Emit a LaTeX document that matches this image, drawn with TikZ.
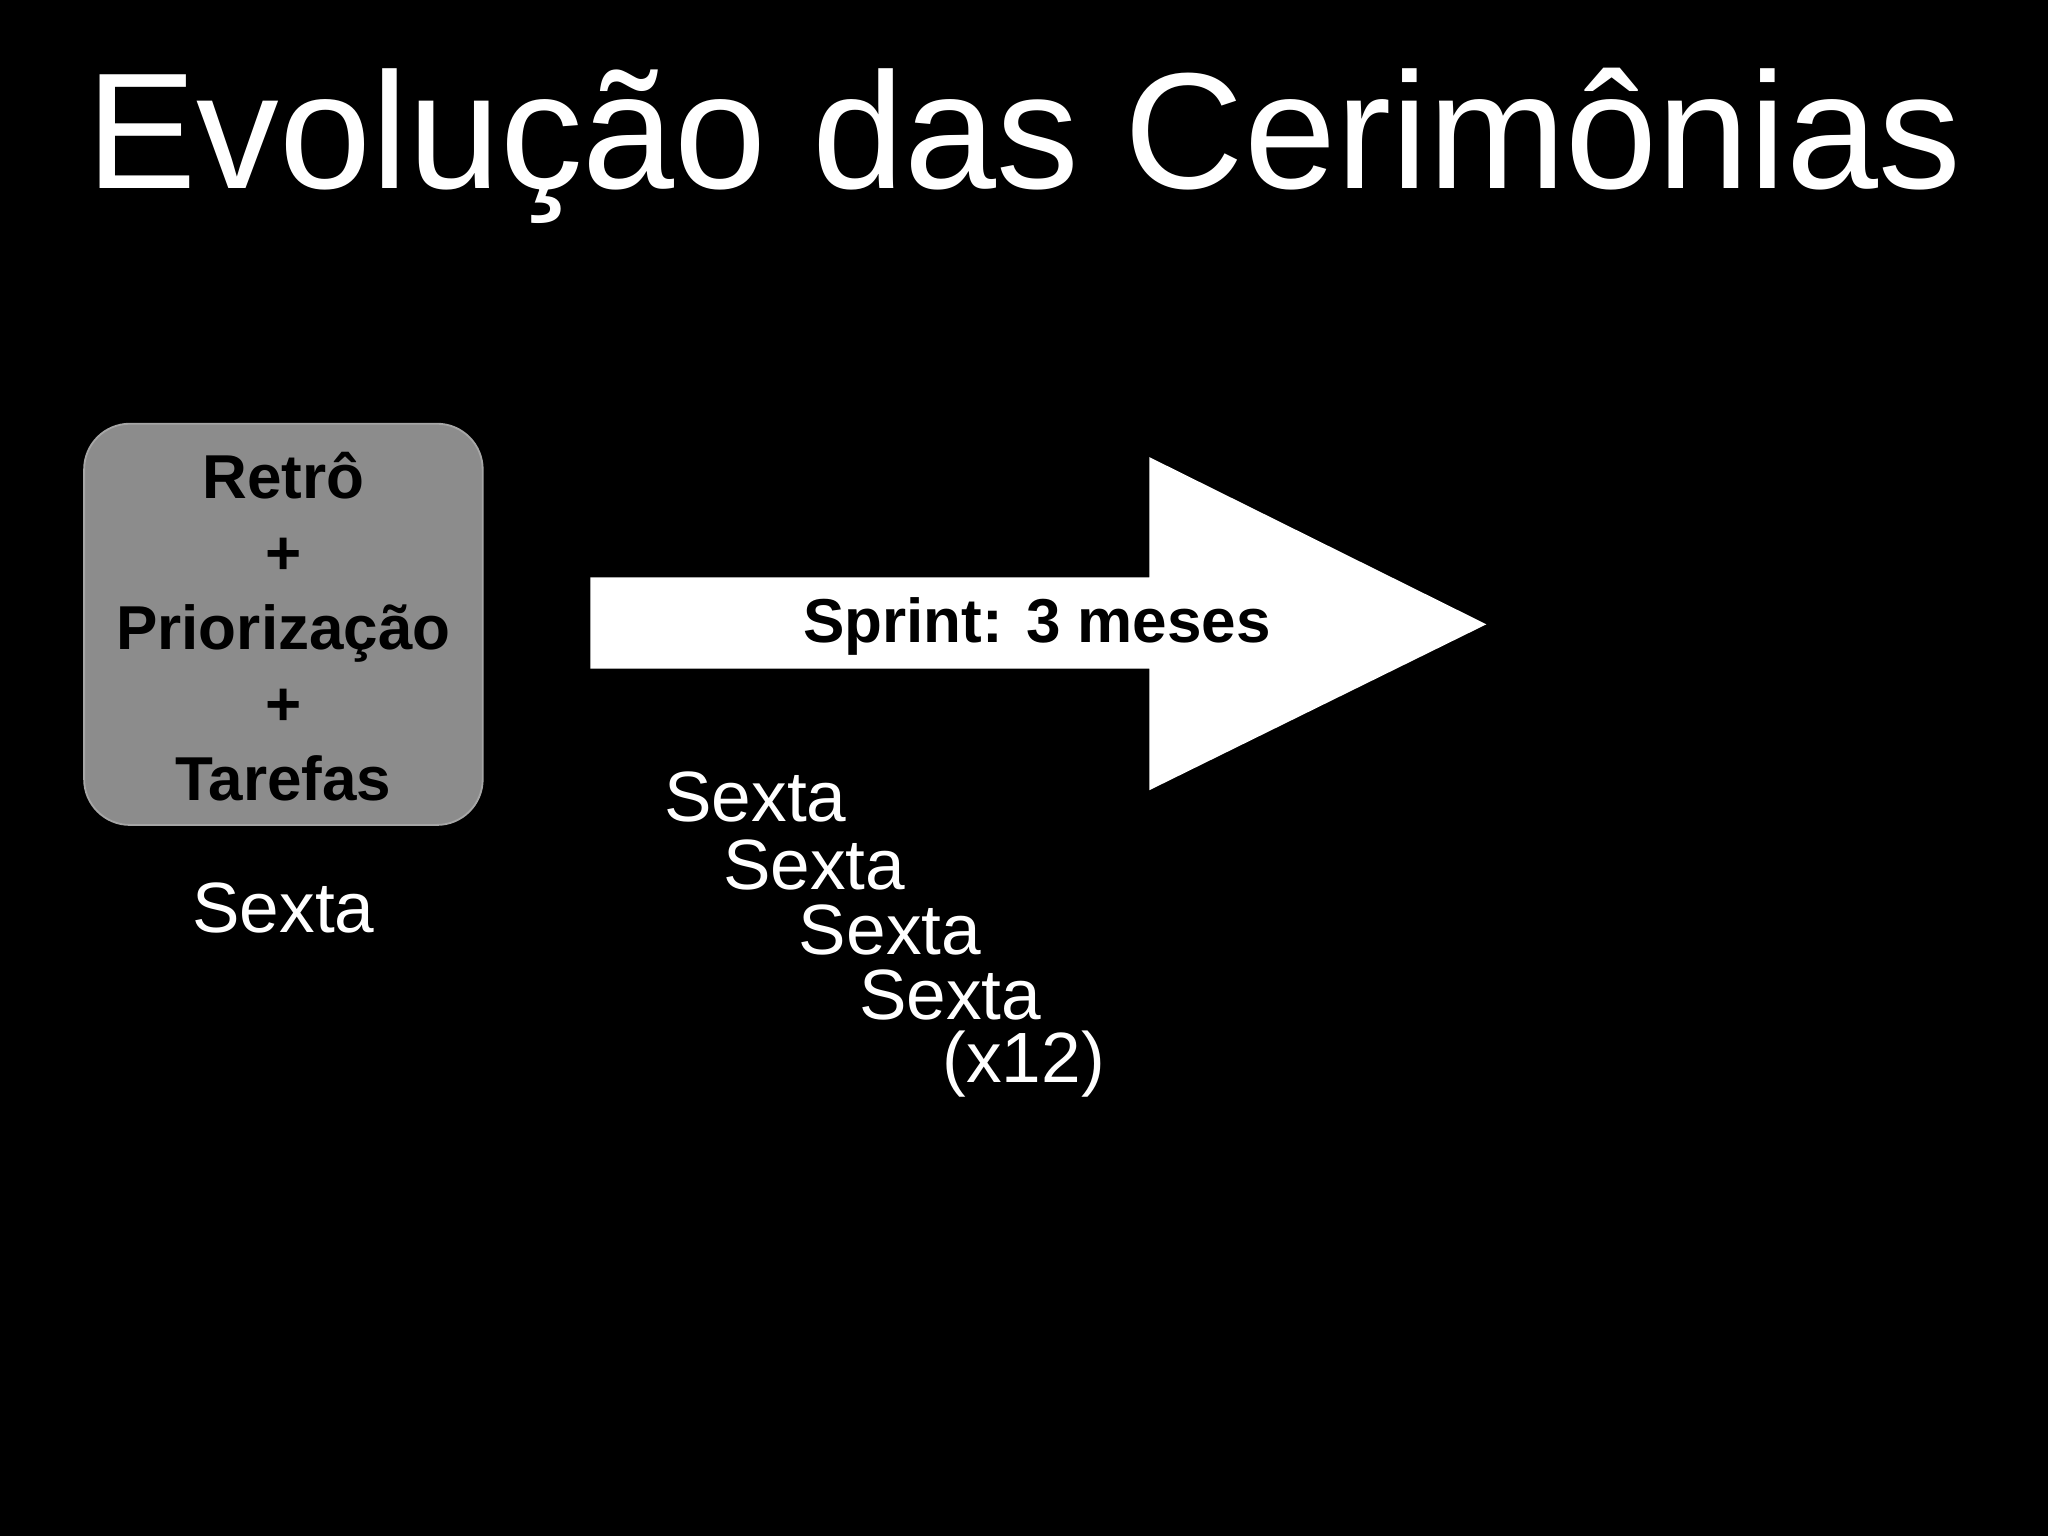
\documentclass[tikz,border=0pt]{standalone}
\usepackage{fontspec}
\setmainfont{Liberation Sans}
\begin{document}
\begin{tikzpicture}[x=0.01cm,y=-0.01cm,
  wt/.style={text=white,font=\fontsize{15.5}{18}\selectfont,inner sep=0pt},
  bt/.style={text=black,font=\fontsize{13.5}{15.6}\selectfont\bfseries,inner sep=0pt,align=center}]
\fill[black] (0,0) rectangle (1568,1176);
\useasboundingbox (0,0) rectangle (1568,1176);
\node[text=white,font=\fontsize{36}{40}\selectfont,inner sep=0pt] (title) at (784,112) {Evolução das Cerimônias};
\node[fill=black!45,draw=black!35,rounded corners=0.35cm,minimum width=3.05cm,minimum height=3.07cm] (box) at (217,478) {};
\node[bt] (btext) at (217,480) {Retrô\\[0.03cm]+\\[0.03cm]Priorização\\[0.03cm]+\\[0.03cm]Tarefas};
\node[wt] (s0) at (217,695) {Sexta};
\fill[white] (452,442) -- (880,442) -- (880,350) -- (1138,478) -- (880,605) -- (880,512) -- (452,512) -- cycle;
\node[bt] (sprint) at (794,480) {Sprint: 3 meses};
\node[wt,anchor=west] (s1) at (508,610) {Sexta};
\node[wt,anchor=west] (s2) at (553,662) {Sexta};
\node[wt,anchor=west] (s3) at (611,712) {Sexta};
\node[wt,anchor=west] (s4) at (657,762) {Sexta};
\node[wt,anchor=west] (x12) at (721,815) {(x12)};
\end{tikzpicture}
\end{document}
